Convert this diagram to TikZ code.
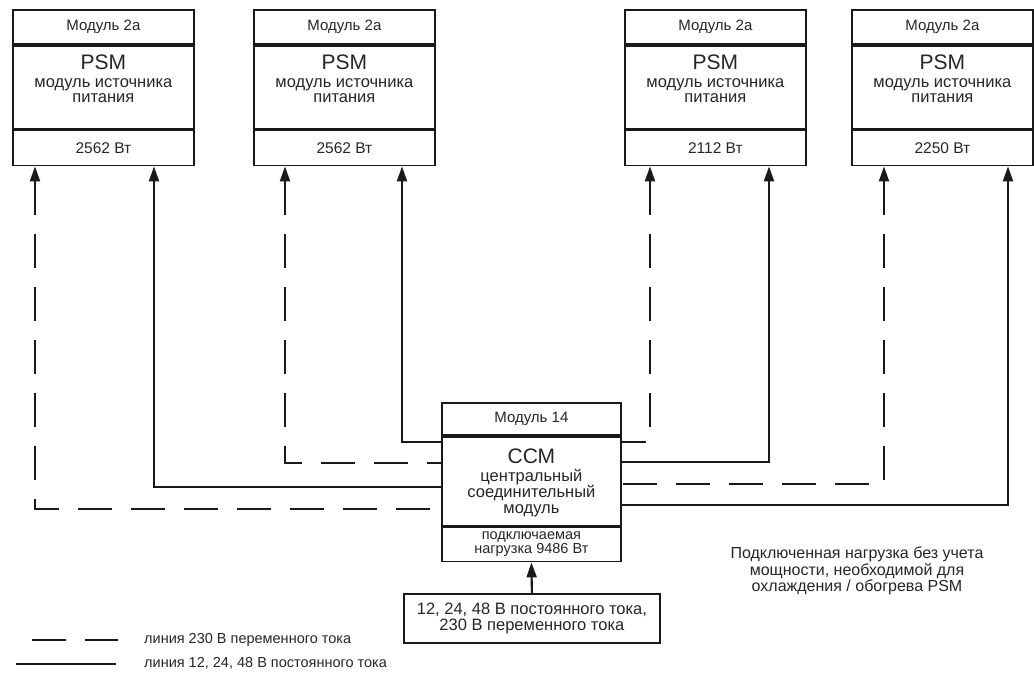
\documentclass[tikz,border=0pt]{standalone}
\usepackage{fontspec}
\setmainfont{Liberation Sans}
\usetikzlibrary{arrows.meta,calc}

\tikzset{
  part/.style={draw=black!90, line width=1.8pt, inner sep=0pt, align=center,
               text=black!85, font=\fontsize{15}{14}\selectfont},
  bodytext/.style={inner sep=0pt, align=center, text=black!85, anchor=north},
  dcline/.style={draw=black!90, line width=2.1pt},
  acline/.style={dcline, dash pattern=on 34pt off 19pt},
  feed/.style={{Triangle[length=15pt,width=10pt]}-},
  supfeed/.style={-{Triangle[length=15pt,width=10pt]}},
}

% one power supply unit: header, body and rated power
\newcommand\psmunit[3]{%
  \node[part, minimum width=181pt, minimum height=34pt, anchor=north west] (#1h) at (#2,9) {Модуль 2а};
  \node[part, minimum width=181pt, minimum height=83pt, anchor=north] (#1b) at (#1h.south) {};
  \node[part, minimum width=181pt, minimum height=35pt, anchor=north, font=\fontsize{15.5}{15}\selectfont] (#1f) at (#1b.south) {#3~Вт};
  \node[bodytext, font=\fontsize{16.5}{15}\selectfont] (#1t) at ([yshift=-9.5pt]#1b.north)
    {{\fontsize{21}{21}\selectfont PSM}\\[3.5pt]модуль источника\\питания};
}

\begin{document}
\begin{tikzpicture}[x=1pt,y=-1pt]
\fill[white] (0,0) rectangle (1034,675);
\useasboundingbox (0,0) rectangle (1034,675);

\psmunit{pa}{12}{2562}
\psmunit{pb}{253}{2562}
\psmunit{pc}{624}{2112}
\psmunit{pd}{851}{2250}

% central connection module
\node[part, minimum width=179pt, minimum height=32pt, anchor=north west] (ch) at (441,402) {Модуль 14};
\node[part, minimum width=179pt, minimum height=89pt, anchor=north] (cb) at (ch.south) {};
\node[part, minimum width=179pt, minimum height=34pt, anchor=north, font=\fontsize{14.5}{14}\selectfont] (cf) at (cb.south)
  {подключаемая\\нагрузка 9486 Вт};
\node[bodytext, font=\fontsize{16.5}{16}\selectfont] (ct) at ([yshift=-12.5pt]cb.north)
  {{\fontsize{21}{21}\selectfont ССМ}\\[2pt]центральный\\соединительный\\модуль};

% supply
\node[part, minimum width=256pt, minimum height=49pt, anchor=north west, font=\fontsize{16.5}{16}\selectfont] (sup) at (403,593)
  {12, 24, 48 В постоянного тока,\\230 В переменного тока};
\draw[dcline, supfeed] (sup.north) -- (cf.south);

% feeders to the left units (drawn from the unit down to the module)
\draw[dcline, feed] (402,0 |- pbf.south) |- (cb.west |- 0,442);
\draw[acline, feed] (285,0 |- pbf.south) |- (cb.west |- 0,463);
\draw[dcline, feed] (154,0 |- paf.south) |- (cb.west |- 0,487);
\draw[acline, feed] (35,0 |- paf.south) |- (cb.west |- 0,509);

% feeders to the right units
\draw[acline, feed] (650,0 |- pcf.south) |- (cb.east |- 0,442);
\draw[dcline, feed] (769,0 |- pcf.south) |- (cb.east |- 0,462);
\draw[acline, feed] (884,0 |- pdf.south) |- (cb.east |- 0,484);
\draw[dcline, feed] (1008,0 |- pdf.south) |- (cb.east |- 0,505);

% remark
\node[inner sep=0pt, align=center, text=black!85, font=\fontsize{16}{16.5}\selectfont] (note) at (857,571)
  {Подключенная нагрузка без учета\\мощности, необходимой для\\охлаждения / обогрева PSM};

% legend
\coordinate (la1) at (32,640);
\coordinate (la2) at (118,640);
\coordinate (ld1) at (16,664);
\coordinate (ld2) at (116,664);
\draw[acline] (la1) -- (la2);
\draw[dcline] (ld1) -- (ld2);
\node[anchor=west, inner sep=0pt, text=black!85, font=\fontsize{14.5}{14}\selectfont] (lat) at (144,640) {линия 230 В переменного тока};
\node[anchor=west, inner sep=0pt, text=black!85, font=\fontsize{14.5}{14}\selectfont] (ldt) at (144,663) {линия 12, 24, 48 В постоянного тока};
\end{tikzpicture}
\end{document}
